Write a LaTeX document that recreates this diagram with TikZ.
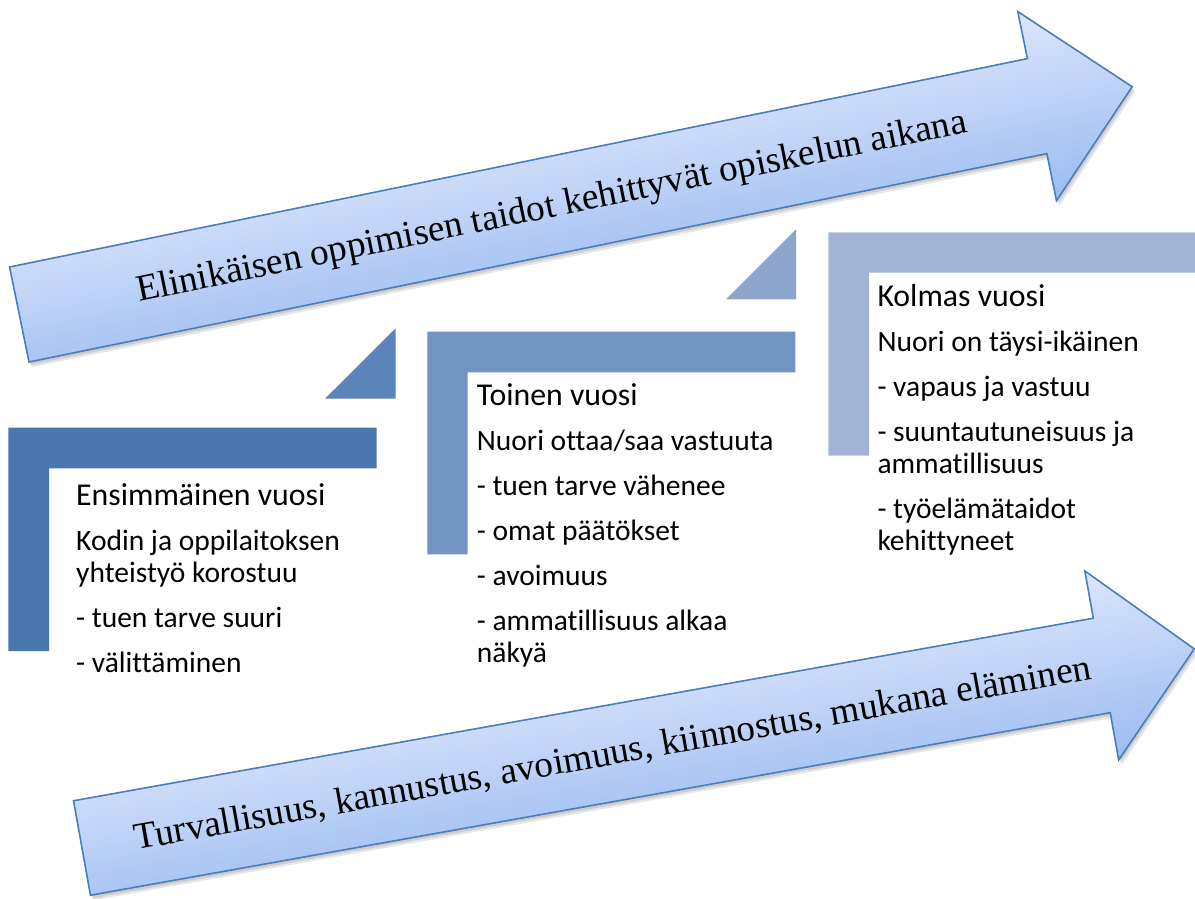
\documentclass[tikz,border=0pt]{standalone}
\usepackage{fontspec}
\setmainfont{Liberation Serif}
\newfontfamily\bodyfont[Ligatures=NoCommon]{Carlito}
\definecolor{arrLight}{HTML}{DDE8FB}
\definecolor{arrDark}{HTML}{9CBCF2}
\definecolor{arrLine}{HTML}{4A7EBB}
\definecolor{stepA}{HTML}{4A77AE}
\definecolor{triA}{HTML}{5B84BA}
\definecolor{stepB}{HTML}{7393C3}
\definecolor{triB}{HTML}{8DA5CC}
\definecolor{stepC}{HTML}{A2B4D4}
\newcommand{\yearhead}[1]{{\fontsize{31.8}{32}\selectfont #1}}
\tikzset{
  yeartext/.style={anchor=base west, inner sep=0pt, text=black,
    font=\bodyfont\fontsize{29.5}{32}\selectfont},
  arrowtext/.style={anchor=base, inner sep=0pt, text=black, transform shape,
    font=\fontsize{37.3}{42}\selectfont},
  arrowedge/.style={draw=arrLine, line width=1.6pt, line join=miter},
}
% #1 cx, #2 cy, #3 angle, #4 length, #5 shaft width, #6 head width, #7 head length
\newcommand{\bigarrow}[7]{%
  \begin{scope}[shift={(#1+1.5,#2+3)}, rotate=#3]
    \fill[black, opacity=0.10] (0,-#5/2) -- (#4-#7,-#5/2) -- (#4-#7,-#6/2) -- (#4,0) -- (#4-#7,#6/2) -- (#4-#7,#5/2) -- (0,#5/2) -- cycle;
  \end{scope}
  \begin{scope}[shift={(#1+3,#2+5)}, rotate=#3]
    \fill[black, opacity=0.10] (0,-#5/2) -- (#4-#7,-#5/2) -- (#4-#7,-#6/2) -- (#4,0) -- (#4-#7,#6/2) -- (#4-#7,#5/2) -- (0,#5/2) -- cycle;
  \end{scope}
  \begin{scope}[shift={(#1,#2)}, rotate=#3]
    \begin{scope}
      \clip (0,-#5/2) -- (#4-#7,-#5/2) -- (#4-#7,-#6/2) -- (#4,0) -- (#4-#7,#6/2) -- (#4-#7,#5/2) -- (0,#5/2) -- cycle;
      \foreach \i in {0,...,48} {
        \pgfmathtruncatemacro\pc{100-\i*100/48}
        \fill[arrLight!\pc!arrDark] (-5,-#6/2-5+\i*#6/48) rectangle (#4+5,#6/2+5);
      }
    \end{scope}
    \path[arrowedge] (0,-#5/2) -- (#4-#7,-#5/2) -- (#4-#7,-#6/2) -- (#4,0) -- (#4-#7,#6/2) -- (#4-#7,#5/2) -- (0,#5/2) -- cycle;
  \end{scope}
}
\begin{document}
\begin{tikzpicture}[x=1pt,y=-1pt]
\useasboundingbox[fill=white] (0,0) rectangle (1195,898);

% step shapes
\fill[stepA] (8.3,427.7) -- (376.7,427.7) -- (376.7,468.3) -- (49,468.3) -- (49,651) -- (8.3,651) -- cycle;
\fill[triA] (325,398.7) -- (395.7,398.7) -- (395.7,328.3) -- cycle;
\fill[stepB] (427.3,331.7) -- (795.3,331.7) -- (795.3,372.3) -- (467.7,372.3) -- (467.7,554.3) -- (427.3,554.3) -- cycle;
\fill[triB] (726,299.3) -- (796,299.3) -- (796,229.3) -- cycle;
\fill[stepC] (828.3,232.3) -- (1195,232.3) -- (1195,272.7) -- (869,272.7) -- (869,455.7) -- (828.3,455.7) -- cycle;

% year texts
\node[yeartext] (year1) at (76,505) {\begin{tabular}[t]{@{}l@{}}
\yearhead{Ensimmäinen vuosi}\\[13pt]
Kodin ja oppilaitoksen\\
yhteistyö korostuu\\[13pt]
- tuen tarve suuri\\[13pt]
- välittäminen
\end{tabular}};
\node[yeartext] (year2) at (476.7,405.7) {\begin{tabular}[t]{@{}l@{}}
\yearhead{Toinen vuosi}\\[13pt]
Nuori ottaa/saa vastuuta\\[13pt]
- tuen tarve vähenee\\[13pt]
- omat päätökset\\[13pt]
- avoimuus\\[13pt]
- ammatillisuus alkaa\\
näkyä
\end{tabular}};
\node[yeartext] (year3) at (877.3,306.7) {\begin{tabular}[t]{@{}l@{}}
\yearhead{Kolmas vuosi}\\[13pt]
Nuori on täysi-ikäinen\\[13pt]
- vapaus ja vastuu\\[13pt]
- suuntautuneisuus ja\\
ammatillisuus\\[13pt]
- työelämätaidot\\
kehittyneet
\end{tabular}};

% big arrows
\bigarrow{19.3}{314.5}{11.57}{1136}{97}{193}{97}
\begin{scope}[shift={(19.3,314.5)}, rotate=11.57]
  \node[arrowtext] (toptext) at (543,11.6) {Elinikäisen oppimisen taidot kehittyvät opiskelun aikana};
\end{scope}

\bigarrow{82}{848}{10.15}{1130}{96}{192}{94}
\begin{scope}[shift={(82,848)}, rotate=10.15]
  \node[arrowtext] (bottext) at (539,11.5) {Turvallisuus, kannustus, avoimuus, kiinnostus, mukana eläminen};
\end{scope}
\end{tikzpicture}
\end{document}
